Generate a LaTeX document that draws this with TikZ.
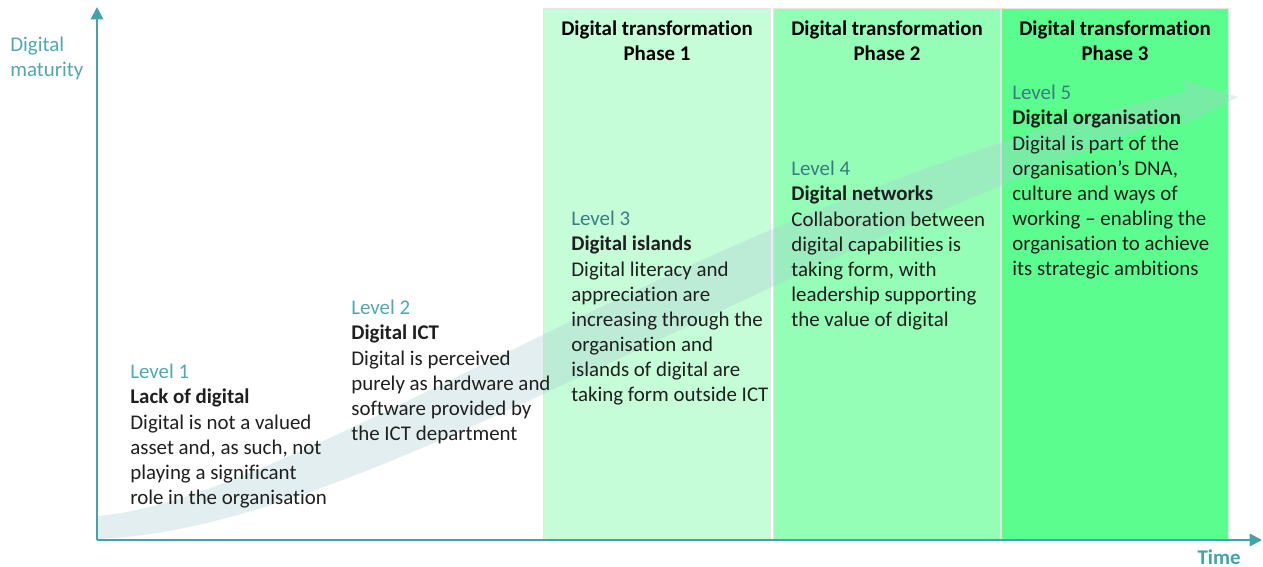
\documentclass[tikz,border=0pt]{standalone}
\usepackage{fontspec}
\setmainfont{Carlito}[Ligatures=NoCommon]
\usetikzlibrary{arrows.meta}

\definecolor{axisteal}{RGB}{64,164,168}
\definecolor{levellight}{RGB}{78,170,176}
\definecolor{leveldark}{RGB}{56,124,132}
\definecolor{phaseone}{RGB}{198,253,217}
\definecolor{phasetwo}{RGB}{148,253,182}
\definecolor{phasethree}{RGB}{92,253,143}
\definecolor{bandgrey}{RGB}{170,205,210}

\tikzset{
  body/.style={font=\fontsize{11.9}{14.3}\selectfont, inner sep=0pt},
  phasebox/.style={draw=black!10, line width=0.4pt},
  phasehead/.style={body, align=center, font=\fontsize{11.9}{14.3}\selectfont\bfseries},
  leveltext/.style={body, align=left, anchor=north west, text=black!88},
  axis/.style={axisteal, line width=1.2pt, -{Triangle[length=7pt,width=7pt]}}
}

\begin{document}
\begin{tikzpicture}[x=0.02cm,y=-0.02cm]
  \useasboundingbox (0,0) rectangle (1263,567);

  % phase columns
  \foreach \x/\c/\n in {543/phaseone/1, 773/phasetwo/2, 1001/phasethree/3} {
    \draw[phasebox,fill=\c] (\x,8) rectangle ++(227,531);
    \node[phasehead] (ph\n) at (\x+114,41) {Digital transformation\\Phase \n};
  }

  % rising band behind the levels
  \fill[bandgrey,fill opacity=0.34] (97,516) .. controls (300,500) and (700,200) .. (1186,92)
    -- (1183,80) -- (1238,97) -- (1183,125) -- (1186,113)
    .. controls (700,290) and (350,530) .. (97,539) -- cycle;

  % axes
  \coordinate (O) at (97,540);
  \coordinate (ytop) at (97,7);
  \coordinate (xend) at (1262,540);
  \draw[axis] (O) -- (ytop);
  \draw[axis] (O) -- (xend);
  \node[body,align=left,anchor=north west,text=levellight] (ylab) at (10,37) {Digital\\maturity};
  \node[body,font=\fontsize{11.9}{14.3}\selectfont\bfseries,text=axisteal] (xlab) at (1219,557) {Time};

  % levels
  \node[leveltext] (lvl1) at (130,364) {\textcolor{levellight}{Level 1}\\
    \textbf{Lack of digital}\\Digital is not a valued\\asset and, as such, not\\
    playing a significant\\role in the organisation};
  \node[leveltext] (lvl2) at (351,300) {\textcolor{levellight}{Level 2}\\
    \textbf{Digital ICT}\\Digital is perceived\\purely as hardware and\\
    software provided by\\the ICT department};
  \node[leveltext] (lvl3) at (571,211) {\textcolor{leveldark}{Level 3}\\
    \textbf{Digital islands}\\Digital literacy and\\appreciation are\\
    increasing through the\\organisation and\\islands of digital are\\
    taking form outside ICT};
  \node[leveltext] (lvl4) at (791,161) {\textcolor{leveldark}{Level 4}\\
    \textbf{Digital networks}\\Collaboration between\\digital capabilities is\\
    taking form, with\\leadership supporting\\the value of digital};
  \node[leveltext] (lvl5) at (1012,85) {\textcolor{leveldark}{Level 5}\\
    \textbf{Digital organisation}\\Digital is part of the\\organisation’s DNA,\\
    culture and ways of\\working – enabling the\\organisation to achieve\\
    its strategic ambitions};
\end{tikzpicture}
\end{document}
